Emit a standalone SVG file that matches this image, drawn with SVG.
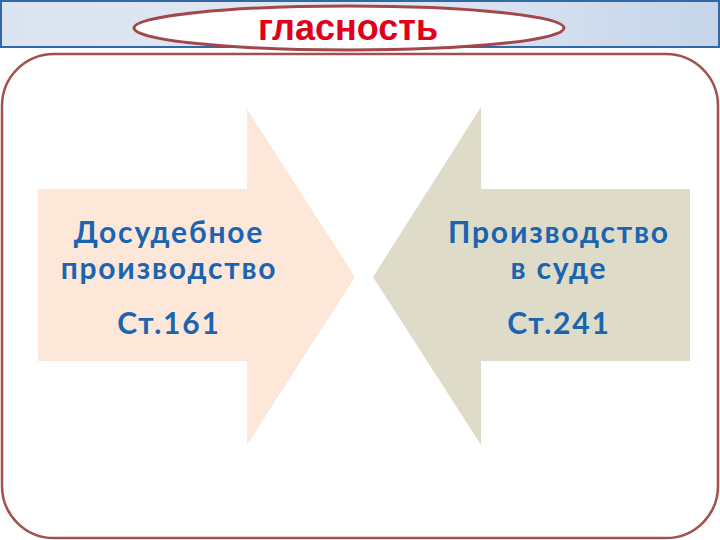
<svg xmlns="http://www.w3.org/2000/svg" width="720" height="540" viewBox="0 0 720 540">
<defs>
<linearGradient id="bar" x1="0" y1="0" x2="1" y2="0">
<stop offset="0" stop-color="#dbe3f1"/>
<stop offset="0.5" stop-color="#e3e9f4"/>
<stop offset="1" stop-color="#c6d5ea"/>
</linearGradient>
</defs>
<style>
.t{font-family:Lato,"Open Sans",sans-serif;font-size:30px;font-weight:bold;letter-spacing:1.8px;fill:#1a64b0;text-anchor:middle}
</style>
<rect width="720" height="540" fill="#ffffff"/>
<g id="header">
<rect x="1" y="1" width="718" height="46" fill="url(#bar)" stroke="#2f6aa6" stroke-width="2"/>
</g>
<g id="frame">
<rect x="2" y="54" width="716" height="484" rx="52" ry="52" fill="#ffffff" stroke="#a2504f" stroke-width="2.5"/>
</g>
<g id="title">
<ellipse cx="349" cy="28" rx="215" ry="22" fill="#ffffff" stroke="#a2484c" stroke-width="3"/>
<text x="348" y="40" style="font-family:'Liberation Sans',Arial,sans-serif;font-size:36px;font-weight:bold;fill:#e0001b;text-anchor:middle">гласность</text>
</g>
<g id="left-arrow">
<polygon points="38,189 247,189 247,109 355,277 247,445 247,361 38,361" fill="#fde7d9"/>
<text class="t"><tspan x="169" y="243">Досудебное</tspan><tspan x="169" y="279">производство</tspan></text>
<text class="t" x="169" y="334">Ст.161</text>
</g>
<g id="right-arrow">
<polygon points="690,189 481,189 481,107 373,277 481,445 481,361 690,361" fill="#dedbc8"/>
<text class="t"><tspan x="559" y="243">Производство</tspan><tspan x="559" y="279">в суде</tspan></text>
<text class="t" x="559" y="334">Ст.241</text>
</g>
<g id="connectors"></g>
</svg>
